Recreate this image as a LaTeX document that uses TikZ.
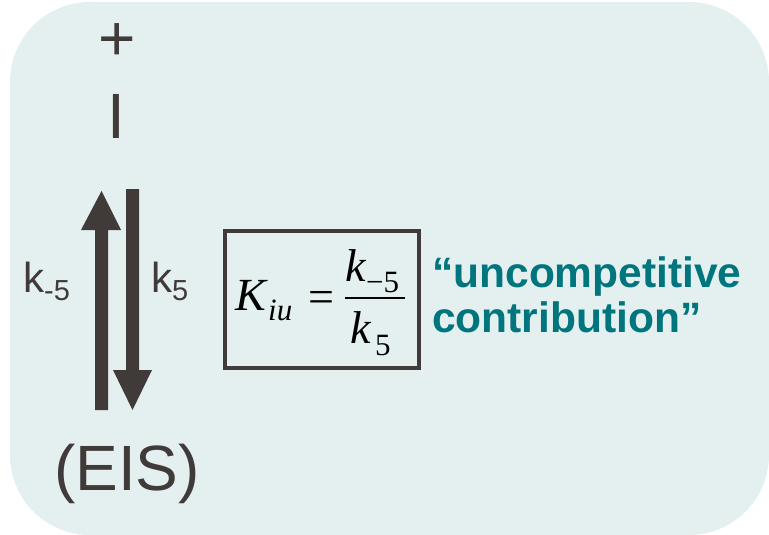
\documentclass[tikz,border=0pt]{standalone}
\usepackage{fontspec}
\setmainfont{Liberation Serif}
\setsansfont{Liberation Sans}
\definecolor{bgc}{RGB}{228,240,240}
\definecolor{inkc}{RGB}{64,58,56}
\definecolor{tealc}{RGB}{0,117,125}
\tikzset{
  big/.style={font=\sffamily\fontsize{64}{70}\selectfont, text=inkc, inner sep=0pt, anchor=base},
  lab/.style={font=\sffamily\fontsize{42}{46}\selectfont, text=inkc, inner sep=0pt, anchor=base west},
  labsub/.style={font=\sffamily\fontsize{29}{32}\selectfont, text=inkc, inner sep=0pt, anchor=base west},
  mth/.style={font=\rmfamily\itshape\fontsize{46}{50}\selectfont, text=black, inner sep=0pt, anchor=base west},
  mthsub/.style={font=\rmfamily\itshape\fontsize{31}{34}\selectfont, text=black, inner sep=0pt, anchor=base west},
  mthrm/.style={font=\rmfamily\fontsize{46}{50}\selectfont, text=black, inner sep=0pt, anchor=base},
  mthsubrm/.style={font=\rmfamily\fontsize{31}{34}\selectfont, text=black, inner sep=0pt, anchor=base west},
  note/.style={font=\sffamily\bfseries\fontsize{42.5}{46}\selectfont, text=tealc, inner sep=0pt, anchor=base west},
  fatarrow/.style={fill=inkc, draw=none},
  framebox/.style={draw=inkc, line width=3.5pt}
}
\begin{document}
\begin{tikzpicture}[x=1pt,y=-1pt]
\useasboundingbox (0,0) rectangle (769,535);
\fill[bgc, rounded corners=80pt] (10,2) rectangle (769,535);

% species
\node[big] (plus) at (117,61) {+};
\node[big] (inh) at (116.5,138) {I};
\node[big] (eis) at (127,490) {(EIS)};

% arrows
\coordinate (upbot) at (101.5,410);
\coordinate (uptip) at (101.5,191);
\fill[fatarrow] (95,410) -- (95,230) -- (81,230) -- (uptip) -- (121,230) -- (108,230) -- (108,410) -- cycle;
\coordinate (dntop) at (132.5,189);
\coordinate (dntip) at (132.5,410);
\fill[fatarrow] (126,189) -- (126,370) -- (113,370) -- (dntip) -- (152,370) -- (139,370) -- (139,189) -- cycle;

% rate labels
\node[lab] (km) at (23,292) {k};
\node[labsub] (kmsub) at (44,300) {-5};
\node[lab] (kp) at (151,292) {k};
\node[labsub] (kpsub) at (172,300) {5};

% equation box
\draw[framebox] (225,231) rectangle (419,368);
\node[mth] (K) at (235,310) {K};
\node[mthsub] (Ksub) at (268,320) {iu};
\node[mthrm] (eq) at (321,312) {=};
\draw[line width=1.9pt] (345,298) -- (405,298);
\node[mth] (knum) at (345,281) {k};
\node[mthsubrm] (knumsub) at (366,292) {−5};
\node[mth] (kden) at (350,343) {k};
\node[mthsubrm] (kdensub) at (375,355) {5};

% note
\node[note] (note1) at (432,287) {“uncompetitive};
\node[note] (note2) at (432,332) {contribution”};
\end{tikzpicture}
\end{document}
